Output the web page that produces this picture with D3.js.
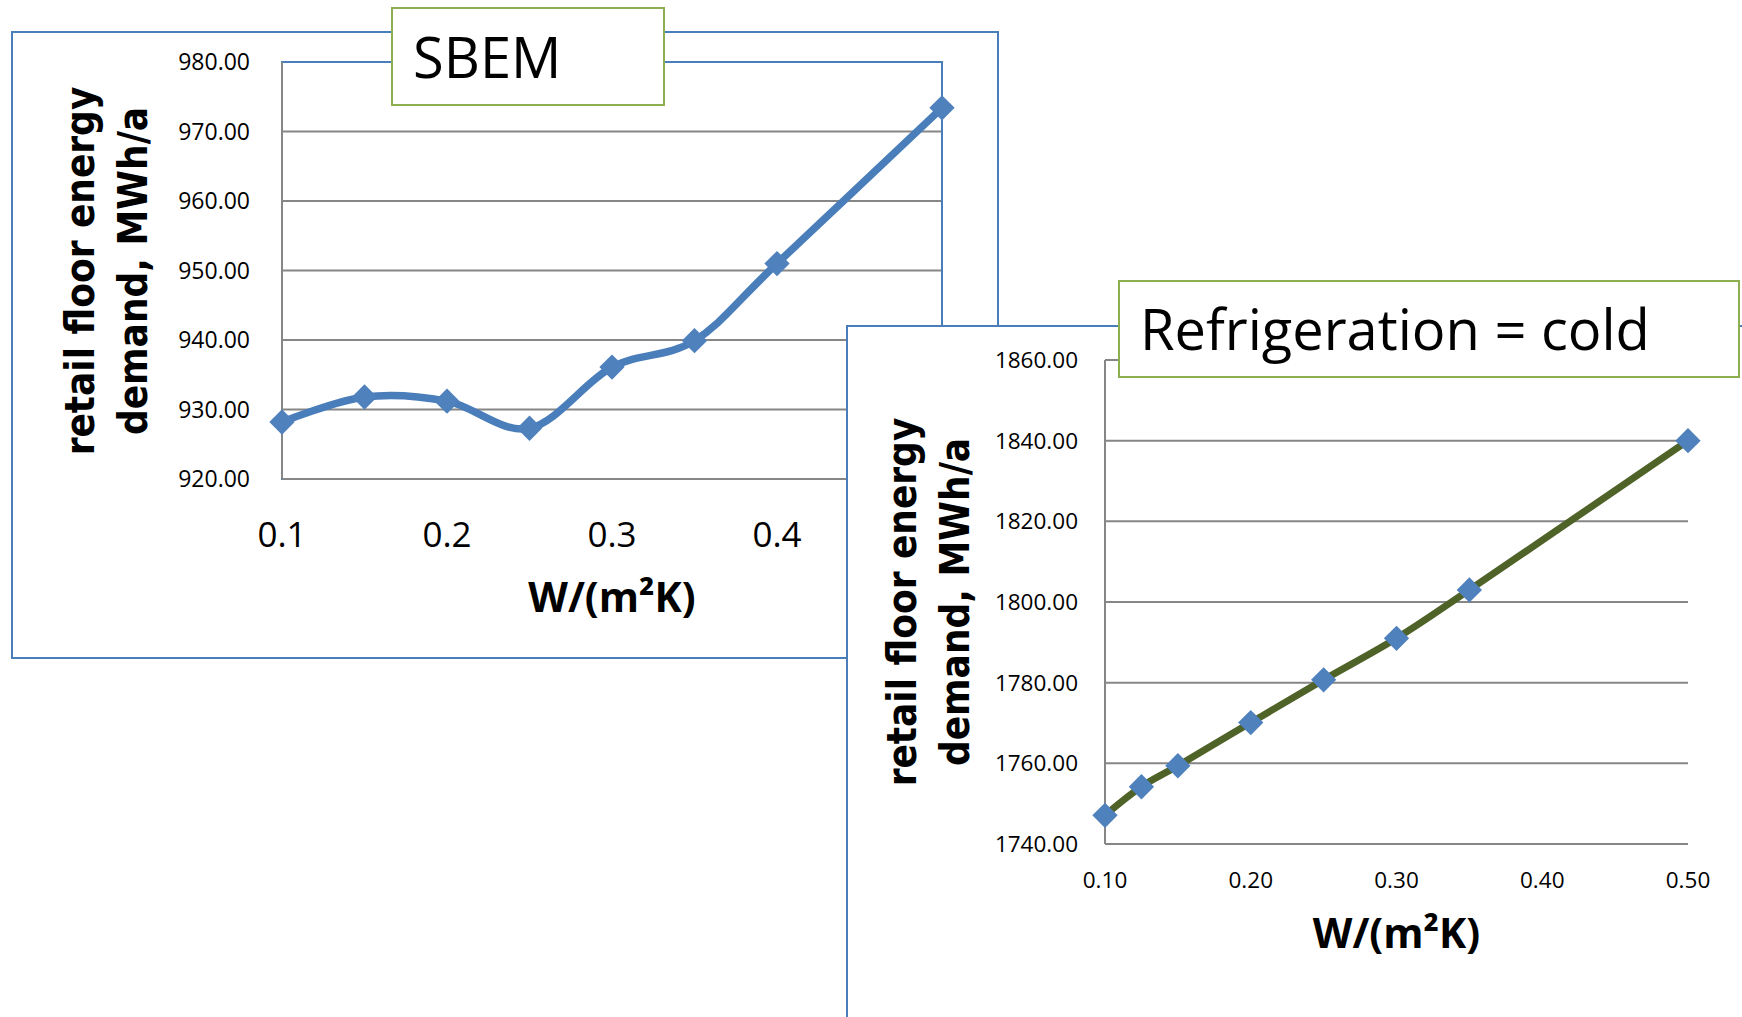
<!DOCTYPE html>
<html>
<head>
<meta charset="utf-8">
<script src="https://cdnjs.cloudflare.com/ajax/libs/d3/7.8.5/d3.min.js"></script>
<style>
  html, body { margin: 0; padding: 0; background: #fff; }
  svg { display: block; }
  .tick-label { font-family: "Open Sans", sans-serif; fill: #000; }
  .axis-title { font-family: "Open Sans", sans-serif; font-weight: bold; fill: #000; }
  .y-title { font-family: "DejaVu Sans", sans-serif; font-weight: bold; fill: #000; }
  .box-title { font-family: "Open Sans", sans-serif; fill: #000; }
</style>
</head>
<body>
<div id="chart"></div>
<script>
// data
const sbemU = [0.1, 0.15, 0.2, 0.25, 0.3, 0.35, 0.4, 0.5];
const sbemDemand = [928.2, 931.8, 931.2, 927.3, 936.1, 939.9, 951.0, 973.4];
const sbemYTicks = [920, 930, 940, 950, 960, 970, 980];
const sbemXTicks = [0.1, 0.2, 0.3, 0.4, 0.5];

const coldU = [0.1, 0.125, 0.15, 0.2, 0.25, 0.3, 0.35, 0.5];
const coldDemand = [1747.1, 1754.2, 1759.4, 1770.1, 1780.7, 1791.0, 1803.0, 1840.0];
const coldYTicks = [1740, 1760, 1780, 1800, 1820, 1840, 1860];
const coldXTicks = [0.1, 0.2, 0.3, 0.4, 0.5];

const yTitleLines = ["retail floor energy", "demand, MWh/a"];
const xTitle = "W/(m\u00B2K)";

const W = 1742, H = 1017;
const frameBlue = "#4a7ebb",
      gridGray = "#868686",
      markerBlue = "#4f81bd",
      boxGreen = "#8eae52";

const svg = d3.select("#chart")
  .append("svg")
  .attr("width", W)
  .attr("height", H);

function drawChart(o) {
  const g = svg.append("g");

  // outer chart frame
  g.append("rect")
    .attr("x", o.frame[0]).attr("y", o.frame[1])
    .attr("width", o.frame[2]).attr("height", o.frame[3])
    .attr("fill", "#fff")
    .attr("stroke", frameBlue)
    .attr("stroke-width", 2);

  const x = d3.scaleLinear().domain(o.xDomain).range([o.plot.left, o.plot.right]);
  const y = d3.scaleLinear().domain(o.yDomain).range([o.plot.bottom, o.plot.top]);

  // gridlines
  g.append("g").selectAll("line")
    .data(o.yTicks.filter(t => !(o.plotBorder && t === o.yDomain[1])))
    .join("line")
    .attr("x1", x(o.xDomain[0])).attr("x2", x(o.xDomain[1]))
    .attr("y1", d => y(d)).attr("y2", d => y(d))
    .attr("stroke", gridGray)
    .attr("stroke-width", 2);

  // plot area border (only first chart has one)
  if (o.plotBorder) {
    g.append("rect")
      .attr("x", x(o.xDomain[0])).attr("y", y(o.yDomain[1]))
      .attr("width", x(o.xDomain[1]) - x(o.xDomain[0]))
      .attr("height", y(o.yDomain[0]) - y(o.yDomain[1]))
      .attr("fill", "none")
      .attr("stroke", frameBlue)
      .attr("stroke-width", 2);
  }

  // axis lines
  g.append("line")
    .attr("x1", x(o.xDomain[0])).attr("x2", x(o.xDomain[0]))
    .attr("y1", y(o.yDomain[0])).attr("y2", y(o.yDomain[1]))
    .attr("stroke", gridGray).attr("stroke-width", 2);
  g.append("line")
    .attr("x1", x(o.xDomain[0])).attr("x2", x(o.xDomain[1]))
    .attr("y1", y(o.yDomain[0])).attr("y2", y(o.yDomain[0]))
    .attr("stroke", gridGray).attr("stroke-width", 2);

  // y tick labels
  g.append("g").selectAll("text")
    .data(o.yTicks)
    .join("text")
    .attr("class", "tick-label")
    .attr("x", o.plot.left - o.yLabelGap)
    .attr("y", d => y(d))
    .attr("dy", "0.36em")
    .attr("text-anchor", "end")
    .style("font-size", o.yFont + "px")
    .text(d => d3.format(".2f")(d));

  // x tick labels
  g.append("g").selectAll("text")
    .data(o.xTicks)
    .join("text")
    .attr("class", "tick-label")
    .attr("x", d => x(d))
    .attr("y", o.xLabelY)
    .attr("text-anchor", "middle")
    .style("font-size", o.xFont + "px")
    .text(d => d3.format(o.xFormat)(d));

  // axis titles
  g.append("text")
    .attr("class", "axis-title")
    .attr("x", (o.plot.left + o.plot.right) / 2)
    .attr("y", o.xTitleY)
    .attr("text-anchor", "middle")
    .style("font-size", "41px")
    .text(xTitle);

  yTitleLines.forEach((t, i) => {
    g.append("text")
      .attr("class", "y-title")
      .attr("transform", "translate(" + o.yTitleX[i] + "," + o.yTitleY + ") rotate(-90) scale(0.9,1)")
      .attr("text-anchor", "middle")
      .style("font-size", "40px")
      .text(t);
  });

  // series
  const pts = o.xs.map((d, i) => [d, o.ys[i]]);
  const line = d3.line()
    .x(d => x(d[0]))
    .y(d => y(d[1]))
    .curve(d3.curveCatmullRom.alpha(0));

  g.append("path")
    .datum(pts)
    .attr("d", line)
    .attr("fill", "none")
    .attr("stroke", o.lineColor)
    .attr("stroke-width", o.lineWidth)
    .attr("stroke-linejoin", "round");

  g.append("g").selectAll("path")
    .data(pts)
    .join("path")
    .attr("d", d3.symbol(d3.symbolSquare, 320))
    .attr("transform", d => "translate(" + x(d[0]) + "," + y(d[1]) + ") rotate(45)")
    .attr("fill", markerBlue);

  // title box
  g.append("rect")
    .attr("x", o.box[0]).attr("y", o.box[1])
    .attr("width", o.box[2]).attr("height", o.box[3])
    .attr("fill", "#fff")
    .attr("stroke", boxGreen)
    .attr("stroke-width", 2);

  g.append("text")
    .attr("class", "box-title")
    .attr("x", o.box[0] + o.boxPad)
    .attr("y", o.boxBaseline)
    .style("font-size", o.boxFont + "px")
    .text(o.title);
}

drawChart({
  frame: [12, 32, 986, 626],
  plot: { left: 282, right: 942, top: 62, bottom: 479 },
  xDomain: [0.1, 0.5], yDomain: [920, 980],
  xTicks: sbemXTicks, yTicks: sbemYTicks,
  xs: sbemU, ys: sbemDemand,
  plotBorder: true,
  yLabelGap: 32, yFont: 23,
  xLabelY: 547, xFont: 35, xFormat: ".1f",
  xTitleY: 612,
  yTitleX: [94, 147], yTitleY: 271,
  lineColor: "#4a7ebb", lineWidth: 7.5,
  box: [392, 8, 272, 97], boxPad: 21, boxBaseline: 78, boxFont: 56,
  title: "SBEM"
});

drawChart({
  frame: [847, 326, 1000, 800],
  plot: { left: 1105, right: 1688, top: 360, bottom: 844 },
  xDomain: [0.1, 0.5], yDomain: [1740, 1860],
  xTicks: coldXTicks, yTicks: coldYTicks,
  xs: coldU, ys: coldDemand,
  plotBorder: false,
  yLabelGap: 27, yFont: 22.5,
  xLabelY: 888, xFont: 22.5, xFormat: ".2f",
  xTitleY: 948,
  yTitleX: [916, 969], yTitleY: 602,
  lineColor: "#4f6228", lineWidth: 7,
  box: [1119, 281, 620, 96], boxPad: 21, boxBaseline: 350, boxFont: 56,
  title: "Refrigeration = cold"
});
</script>
</body>
</html>
